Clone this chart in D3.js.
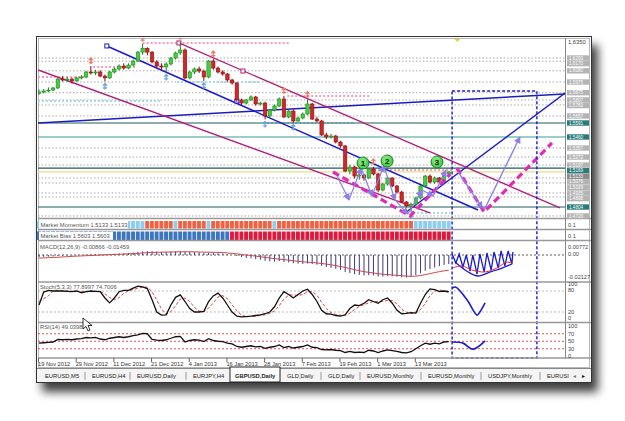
<!DOCTYPE html>
<html><head><meta charset="utf-8">
<script src="https://cdn.jsdelivr.net/npm/d3@7"></script>
<style>body{margin:0;background:#fff}svg{display:block}text{font-family:"Liberation Sans",Arial,sans-serif}</style>
</head><body><svg id="c" width="625" height="421"></svg>
<script>
// ---------- DATA ----------
const open=[1.5870,1.5882,1.5891,1.5900,1.5919,1.6003,1.5994,1.6003,1.5985,1.6013,1.6022,1.6069,1.6060,1.6069,1.6031,1.6013,1.6069,1.6097,1.6125,1.6106,1.6134,1.6172,1.6256,1.6290,1.6255,1.6163,1.6125,1.6116,1.6144,1.6200,1.6247,1.6275,1.6013,1.6069,1.6097,1.6078,1.6022,1.6172,1.6106,1.6069,1.6050,1.5994,1.5966,1.5807,1.5778,1.5807,1.5835,1.5769,1.5778,1.5657,1.5713,1.5750,1.5816,1.5647,1.5703,1.5610,1.5638,1.5675,1.5769,1.5628,1.5610,1.5479,1.5460,1.5469,1.5413,1.5376,1.5141,1.5179,1.5094,1.5104,1.5076,1.5160,1.5113,1.4963,1.5019,1.5076,1.5001,1.4944,1.4851,1.4813,1.4830,1.4888,1.5001,1.5094,1.5038,1.5076,1.5038,1.5113];
const high=[1.5905,1.5910,1.5925,1.5930,1.6012,1.6030,1.6020,1.6015,1.6025,1.6040,1.6080,1.6125,1.6090,1.6085,1.6045,1.6080,1.6110,1.6140,1.6150,1.6150,1.6185,1.6265,1.6335,1.6300,1.6265,1.6180,1.6150,1.6160,1.6210,1.6260,1.6352,1.6290,1.6080,1.6110,1.6120,1.6090,1.6180,1.6190,1.6120,1.6085,1.6060,1.6005,1.5975,1.5820,1.5815,1.5850,1.5845,1.5790,1.5790,1.5725,1.5765,1.5830,1.5845,1.5715,1.5720,1.5650,1.5690,1.5810,1.5780,1.5650,1.5620,1.5500,1.5490,1.5480,1.5425,1.5385,1.5200,1.5190,1.5120,1.5115,1.5170,1.5180,1.5125,1.5030,1.5085,1.5080,1.5010,1.4955,1.4860,1.4845,1.4900,1.5010,1.5105,1.5110,1.5090,1.5085,1.5125,1.5140];
const low=[1.5855,1.5868,1.5880,1.5888,1.5910,1.5980,1.5975,1.5960,1.5978,1.6000,1.6010,1.6045,1.6040,1.6020,1.5980,1.6005,1.6055,1.6085,1.6090,1.6095,1.6120,1.6160,1.6230,1.6225,1.6150,1.6100,1.6090,1.6065,1.6130,1.6185,1.6230,1.6000,1.6000,1.6050,1.6060,1.5985,1.6010,1.6090,1.6055,1.6035,1.5980,1.5950,1.5790,1.5760,1.5765,1.5795,1.5755,1.5755,1.5625,1.5645,1.5700,1.5740,1.5640,1.5635,1.5595,1.5600,1.5625,1.5665,1.5620,1.5600,1.5470,1.5440,1.5445,1.5400,1.5360,1.5130,1.5110,1.5070,1.5060,1.5050,1.5065,1.5100,1.4945,1.4950,1.5005,1.4990,1.4930,1.4840,1.4800,1.4750,1.4815,1.4875,1.4990,1.5025,1.5020,1.5030,1.5030,1.5100];
const close=[1.5882,1.5891,1.5900,1.5919,1.6003,1.5994,1.6003,1.5985,1.6013,1.6022,1.6069,1.6060,1.6069,1.6031,1.6013,1.6069,1.6097,1.6125,1.6106,1.6134,1.6172,1.6256,1.6290,1.6255,1.6163,1.6125,1.6116,1.6144,1.6200,1.6247,1.6275,1.6013,1.6069,1.6097,1.6078,1.6022,1.6172,1.6106,1.6069,1.6050,1.5994,1.5966,1.5807,1.5778,1.5807,1.5835,1.5769,1.5778,1.5657,1.5713,1.5750,1.5816,1.5647,1.5703,1.5610,1.5638,1.5675,1.5769,1.5628,1.5610,1.5479,1.5460,1.5469,1.5413,1.5376,1.5141,1.5179,1.5094,1.5104,1.5076,1.5160,1.5113,1.4963,1.5019,1.5076,1.5001,1.4944,1.4851,1.4813,1.4830,1.4888,1.5001,1.5094,1.5038,1.5076,1.5038,1.5113,1.5132];

const momentum=[1,1,1,1,1,1,1,1,1,1,1,1,1,1,1,1,1,1,1,1,1,1,1,0,0,0,0,0,0,1,0,0,0,0,0,0,1,0,0,0,0,0,0,0,0,0,0,0,0,0,1,0,0,0,0,0,0,0,0,0,0,0,0,0,0,0,0,0,0,0,0,0,0,0,0,0,0,0,0,0,1,1,1,1,1,1,1,1];
const bias=[1,1,1,1,1,1,1,1,1,1,1,1,1,1,1,1,1,1,1,1,1,1,1,1,1,1,1,1,1,1,1,1,1,1,1,1,1,1,1,1,1,0,0,0,0,0,0,0,0,0,0,0,0,0,0,0,0,0,0,0,0,0,0,0,0,0,0,0,0,0,0,0,0,0,0,0,0,0,0,0,0,0,0,0,0,0,0,0];

const macdMain=[-0.0020,-0.0018,-0.0016,-0.0014,-0.0010,-0.0008,-0.0006,-0.0004,-0.0002,0.0000,0.0003,0.0005,0.0007,0.0008,0.0008,0.0010,0.0012,0.0015,0.0017,0.0020,0.0024,0.0030,0.0035,0.0038,0.0036,0.0033,0.0030,0.0030,0.0032,0.0035,0.0038,0.0032,0.0030,0.0028,0.0026,0.0022,0.0024,0.0022,0.0018,0.0014,0.0008,0.0002,-0.0010,-0.0020,-0.0028,-0.0032,-0.0040,-0.0046,-0.0056,-0.0062,-0.0064,-0.0060,-0.0068,-0.0072,-0.0080,-0.0084,-0.0086,-0.0082,-0.0088,-0.0094,-0.0106,-0.0116,-0.0124,-0.0134,-0.0144,-0.0164,-0.0174,-0.0186,-0.0192,-0.0198,-0.0196,-0.0198,-0.0208,-0.0208,-0.0204,-0.0206,-0.0210,-0.0216,-0.0218,-0.0212,-0.0196,-0.0176,-0.0152,-0.0136,-0.0120,-0.0108,-0.0096,-0.0087];
const macdSignal=[-0.0030,-0.0028,-0.0026,-0.0024,-0.0022,-0.0019,-0.0016,-0.0013,-0.0011,-0.0009,-0.0007,-0.0005,-0.0003,-0.0001,0.0001,0.0003,0.0005,0.0007,0.0009,0.0011,0.0013,0.0016,0.0019,0.0022,0.0024,0.0026,0.0027,0.0028,0.0029,0.0030,0.0031,0.0031,0.0031,0.0030,0.0029,0.0028,0.0027,0.0026,0.0025,0.0023,0.0020,0.0016,0.0011,0.0005,0.0000,-0.0005,-0.0011,-0.0017,-0.0023,-0.0029,-0.0035,-0.0040,-0.0045,-0.0050,-0.0056,-0.0061,-0.0066,-0.0069,-0.0073,-0.0077,-0.0082,-0.0088,-0.0095,-0.0103,-0.0111,-0.0121,-0.0131,-0.0142,-0.0152,-0.0161,-0.0168,-0.0174,-0.0181,-0.0186,-0.0190,-0.0193,-0.0197,-0.0200,-0.0204,-0.0206,-0.0204,-0.0199,-0.0190,-0.0180,-0.0170,-0.0161,-0.0153,-0.0146];

const stochK=[40,77,82,80,80,80,79,78,80,75,78,80,79,78,60,46,60,78,82,82,88,94,92,87,55,20,11,12,40,62,69,50,30,20,20,22,50,66,74,60,40,20,8,6,7,8,10,12,15,20,35,60,78,70,60,70,80,85,70,50,25,15,14,10,8,12,30,40,38,45,55,50,45,55,60,45,25,15,16,18,17,45,70,86,84,78,80,77.9];
const stochD=[50,58,66,80,81,80,80,79,79,78,78,78,79,79,72,61,55,61,73,81,84,88,91,91,78,54,29,14,21,38,57,60,50,33,23,21,31,46,63,67,58,40,23,11,7,7,8,10,12,16,23,38,57,68,69,67,70,78,78,68,48,30,18,13,11,10,17,27,36,41,46,50,50,50,53,53,43,28,19,16,17,27,44,67,80,83,80,74.7];
const rsi=[45,46,47,48,55,54,55,54,56,57,60,59,60,56,54,58,60,62,60,62,65,67,71,70,55,53,52,54,58,62,63,48,52,54,53,49,57,52,50,49,45,43,36,34,36,38,35,36,31,34,36,40,33,36,32,34,36,40,34,33,28,27,28,26,25,20,23,20,21,20,26,24,20,24,27,25,23,20,19,22,30,38,45,42,45,43,48,49.04];

const dateBars=[0,8,16,24,32,40,48,56,64,72,80];
const dateText=["19 Nov 2012","29 Nov 2012","11 Dec 2012","21 Dec 2012","4 Jan 2013","16 Jan 2013","28 Jan 2013","7 Feb 2013","19 Feb 2013","1 Mar 2013","13 Mar 2013"];
const tabs=["EURUSD,M5","EURUSD,H4","EURUSD,Daily","EURJPY,H4","GBPUSD,Daily","GLD,Daily","GLD,Daily","EURUSD,Monthly","EURUSD,Monthly","USDJPY,Monthly","EURUSI"];
const activeTab=4;

const grayLevels=[1.6200,1.6170,1.6080,1.5975,1.5875,1.5807,1.5760,1.5657,1.5357,1.5272,1.5197,1.5076,1.5029,1.4935,1.4898,1.4720];
const tealLevels=[1.5591,1.5460,1.5169,1.4804];
const currentPrice=1.5133;
const topPrice=1.6350;

// drawn objects (bar index, price)
const trendBlue=[[-0.2,1.5591],[111.7,1.5863]];
const channelBlue=[[14.4,1.6313],[93.2,1.4776]];
const channelBlueMarks=[[14.4,1.6313],[42,1.5797]];
const upBlue=[[77.7,1.4748],[111.7,1.5872]];
const magentaUpper=[[29.7,1.6341],[110.6,1.4795]];
const magentaMarks=[[29.7,1.6341],[43.3,1.6078]];
const magentaLower=[[-0.2,1.6088],[83,1.4748]];
const pinkLeft=[[62.4,1.5132],[78.8,1.4720],[87.3,1.5113]];
const pinkRight=[[88.7,1.5169],[94.5,1.4757],[108.9,1.5404]];
const purpleZig=[[63.3,1.5094],[65.8,1.4870],[68.4,1.5169],[70.7,1.4907],[73.2,1.5188],[75.6,1.4870],[78.3,1.4738],[81.3,1.4963],[83.7,1.4907],[86.4,1.5151]];
const purpleProj=[[[89.0,1.5132],[94.1,1.4795]],[[94.5,1.4776],[102.1,1.5460]]];
const pinkFractal=[[-0.2,9.8,1.6022],[11.5,20.8,1.6116],[22,53.3,1.6341],[52.7,70.3,1.5844],[70.3,87.9,1.5151]];
const blueFractal=[[-0.2,25.7,1.5797],[29.3,46.9,1.5975],[47.6,66.7,1.5591],[79.4,87.3,1.4748]];
const fractalHighBars=[11,22,30,37,52,57,71];
const fractalLowBars=[14,27,35,48,54,79];
const waves=[{n:"1",bar:68.8,p:1.5216},{n:"2",bar:73.9,p:1.5235},{n:"3",bar:84.5,p:1.5226}];
const projBox={b0:87.7,b1:105.7,top:1.5891};
const macdProj=[[87.7,0.0010],[88.5,-0.0077],[89.2,0.0010],[90.0,-0.0116],[90.7,0.0000],[91.5,-0.0155],[92.1,0.0000],[93.0,-0.0184],[93.6,0.0010],[94.5,-0.0164],[95.1,0.0019],[96.0,-0.0145],[96.6,0.0029],[97.5,-0.0126],[98.1,0.0039],[98.9,-0.0106],[99.6,0.0039],[100.4,-0.0087],[100.6,0.0029]];
const macdProjCurve=[[88.3,-0.0068],[91.1,-0.0164],[93.2,-0.0203],[95.8,-0.0164],[98.3,-0.0126],[100.4,-0.0087]];
const macdProjRed=[[87.7,-0.0126],[89.8,-0.0106],[91.9,-0.0145],[94.7,-0.0164],[97.2,-0.0126],[99.4,-0.0068],[100.6,-0.0087]];
const stochProj=[[87.7,88],[88.5,91],[90.9,54],[93.0,11],[93.6,20],[94.7,46]];
const rsiProj=[[87.7,48],[90.0,45],[92.1,29],[94.7,51]];

// ---------- LAYOUT ----------
const svg=d3.select('#c');
const L=38,R=565;
const x=d3.scaleLinear().domain([0,87]).range([39,448.8]);
const y=d3.scaleLinear().domain([1.4804,1.6350]).range([207,42]);
const ym=d3.scaleLinear().domain([-0.02127,0.00772]).range([277,247]);
const ys=d3.scaleLinear().domain([0,100]).range([319,284]);
const yr=d3.scaleLinear().domain([0,100]).range([360,322.5]);
const N=close.length, idx=d3.range(N);
const tabStart=[45,92,137,193,235,287,328,367,428,488,547];

const defs=svg.append('defs');
const f=defs.append('filter').attr('id','sh').attr('x','-10%').attr('y','-10%').attr('width','125%').attr('height','130%');
f.append('feDropShadow').attr('dx',6).attr('dy',9).attr('stdDeviation',5).attr('flood-color','#000').attr('flood-opacity',0.75);
function clip(id,x0,y0,w,h){defs.append('clipPath').attr('id',id).append('rect').attr('x',x0).attr('y',y0).attr('width',w).attr('height',h);}
clip('cm',L,38,R-L,180);clip('cmacd',L,242,R-L,40);clip('cst',L,283,R-L,39);clip('crsi',L,323,R-L,35);
const mk=defs.append('marker').attr('id','pa').attr('viewBox','0 0 8 8').attr('refX',7).attr('refY',4).attr('markerWidth',7).attr('markerHeight',7).attr('markerUnits','userSpaceOnUse').attr('orient','auto');
mk.append('path').attr('d','M0,0 L8,4 L0,8 z').attr('fill','#8c7fe6');

svg.append('rect').attr('width',625).attr('height',421).attr('fill','#fff');
svg.append('rect').attr('x',36).attr('y',36).attr('width',556).attr('height',347).attr('fill','#fff').attr('filter','url(#sh)');
svg.append('rect').attr('x',36.5).attr('y',36.5).attr('width',555).attr('height',346).attr('fill','#fff').attr('stroke','#333');
svg.append('rect').attr('x',38.5).attr('y',38.5).attr('width',551).attr('height',329).attr('fill','none').attr('stroke','#b8b8b8');

const line=(sx,sy)=>d3.line().x(d=>sx(d[0])).y(d=>sy(d[1]));
const lp=line(x,y);

// ---------- MAIN ----------
const gm=svg.append('g').attr('clip-path','url(#cm)');
gm.selectAll('.gl').data(grayLevels).join('line').attr('x1',L).attr('x2',R).attr('y1',d=>y(d)).attr('y2',d=>y(d)).attr('stroke','#a9a9a9').attr('stroke-dasharray','1.5,2');
gm.selectAll('.pf').data(pinkFractal).join('line').attr('x1',d=>x(d[0])).attr('x2',d=>x(d[1])).attr('y1',d=>y(d[2])).attr('y2',d=>y(d[2])).attr('stroke','#f4a0b4').attr('stroke-width',2).attr('stroke-dasharray','2,2');
gm.selectAll('.bf').data(blueFractal).join('line').attr('x1',d=>x(d[0])).attr('x2',d=>x(d[1])).attr('y1',d=>y(d[2])).attr('y2',d=>y(d[2])).attr('stroke','#a8d8ec').attr('stroke-width',2).attr('stroke-dasharray','2,2');
gm.selectAll('.tl').data(tealLevels).join('line').attr('x1',L).attr('x2',R).attr('y1',d=>y(d)).attr('y2',d=>y(d)).attr('stroke',(d,i)=>i==1?'#3a9c9c':'#1e5e5e').attr('stroke-width',1.2);
gm.append('line').attr('x1',L).attr('x2',R).attr('y1',y(currentPrice)).attr('y2',y(currentPrice)).attr('stroke','#e6df86').attr('stroke-width',1.2);

gm.append('path').attr('d',lp(trendBlue)).attr('stroke','#1c1cb8').attr('stroke-width',1.5).attr('fill','none');
gm.append('path').attr('d',lp(channelBlue)).attr('stroke','#1c1cc8').attr('stroke-width',1.5).attr('fill','none');
gm.append('path').attr('d',lp(upBlue)).attr('stroke','#1c1cc8').attr('stroke-width',1.5).attr('fill','none');
gm.append('path').attr('d',lp(magentaUpper)).attr('stroke','#b0207a').attr('stroke-width',1.3).attr('fill','none');
gm.append('path').attr('d',lp(magentaLower)).attr('stroke','#b0207a').attr('stroke-width',1.3).attr('fill','none');
gm.selectAll('.cbm').data(channelBlueMarks).join('rect').attr('x',d=>x(d[0])-2).attr('y',d=>y(d[1])-2).attr('width',4).attr('height',4).attr('fill','#fff').attr('stroke','#1c1cc8');
gm.selectAll('.mgm').data(magentaMarks).join('rect').attr('x',d=>x(d[0])-2).attr('y',d=>y(d[1])-2).attr('width',4).attr('height',4).attr('fill','#fff').attr('stroke','#b0207a');

const bull=i=>close[i]>=open[i];
gm.selectAll('.wk').data(idx).join('line').attr('x1',i=>x(i)).attr('x2',i=>x(i)).attr('y1',i=>y(high[i])).attr('y2',i=>y(low[i])).attr('stroke',i=>bull(i)?'#2a7a2a':'#7a1010').attr('stroke-width',1);
gm.selectAll('.bd').data(idx).join('rect').attr('x',i=>x(i)-1.7).attr('width',3.4).attr('y',i=>y(Math.max(open[i],close[i]))).attr('height',i=>Math.max(1,Math.abs(y(open[i])-y(close[i])))).attr('fill',i=>bull(i)?'#3fcf3f':'#d02828').attr('stroke',i=>bull(i)?'#238a23':'#8a1414').attr('stroke-width',0.6);

const arrowD='M0,0 L0,-6 M-2,-3.8 L0,-6 L2,-3.8 M-2,-1.5 L2,-1.5';
gm.selectAll('.fh').data(fractalHighBars).join('path').attr('d',arrowD).attr('transform',i=>`translate(${x(i)},${y(high[i])-2})`).attr('stroke','#f07860').attr('stroke-width',1.3).attr('fill','none');
gm.selectAll('.fl').data(fractalLowBars).join('path').attr('d',arrowD).attr('transform',i=>`translate(${x(i)},${y(low[i])+8})`).attr('stroke','#6aa6e0').attr('stroke-width',1.3).attr('fill','none');

gm.append('path').attr('d',lp(pinkLeft)).attr('stroke','#e02ab8').attr('stroke-width',3.2).attr('stroke-dasharray','7,4').attr('fill','none');
gm.append('path').attr('d',lp(pinkRight)).attr('stroke','#e02ab8').attr('stroke-width',3.2).attr('stroke-dasharray','7,4').attr('fill','none');
const zsegs=d3.pairs(purpleZig);
gm.selectAll('.pz').data(zsegs).join('path').attr('d',d=>lp(d)).attr('stroke','#8c7fe6').attr('stroke-width',1.2).attr('fill','none').attr('marker-end','url(#pa)');
gm.selectAll('.pp').data(purpleProj).join('path').attr('d',d=>lp(d)).attr('stroke','#8c7fe6').attr('stroke-width',1.4).attr('fill','none').attr('marker-end','url(#pa)');

const wg=gm.selectAll('.wv').data(waves).join('g').attr('transform',d=>`translate(${x(d.bar)},${y(d.p)})`);
wg.append('circle').attr('r',6).attr('fill','#4fd24f').attr('stroke','#1f7a1f').attr('stroke-width',1);
wg.append('circle').attr('r',4).attr('cx',-1).attr('cy',-1.5).attr('fill','#8cf08c').attr('opacity',0.6);
wg.append('text').text(d=>d.n).attr('text-anchor','middle').attr('y',3).attr('font-size',8).attr('font-weight','bold').attr('fill','#111');

gm.append('path').attr('d','M-3,0 L3,0 L0,3 Z').attr('transform',`translate(${x(88.8)},${y(1.6380)})`).attr('fill','#e8c820');

// ---------- MOMENTUM / BIAS ----------
svg.append('g').selectAll('rect').data(idx).join('rect').attr('x',i=>x(i)-2.1).attr('width',3.9).attr('y',221).attr('height',7.5).attr('fill',i=>momentum[i]?'#8ccdf0':'#f2603e');
svg.append('g').selectAll('rect').data(idx).join('rect').attr('x',i=>x(i)-2.1).attr('width',3.9).attr('y',231.5).attr('height',8.5).attr('fill',i=>bias[i]?'#3c76be':'#e0183c');
function lbl(t,x0,y0,w){svg.append('rect').attr('x',x0).attr('y',y0-6).attr('width',w).attr('height',8).attr('fill','#fff');
 svg.append('text').text(t).attr('x',x0+1.5).attr('y',y0).attr('font-size',5.8).attr('fill','#555');}
lbl('Market Momentum 1.5133 1.5133',39,227,89);
lbl('Market Bias 1.5603 1.5603',39,238,74);

// ---------- MACD ----------
const gmc=svg.append('g').attr('clip-path','url(#cmacd)');
gmc.append('line').attr('x1',L).attr('x2',R).attr('y1',ym(0)).attr('y2',ym(0)).attr('stroke','#333').attr('stroke-dasharray','2,2').attr('stroke-width',0.8);
gmc.selectAll('.h').data(idx).join('line').attr('x1',i=>x(i)).attr('x2',i=>x(i)).attr('y1',ym(0)).attr('y2',i=>ym(macdMain[i])).attr('stroke','#3a3a80').attr('stroke-width',1);
gmc.append('path').attr('d',d3.line().x((d,i)=>x(i)).y(d=>ym(d))(macdSignal)).attr('stroke','#d04848').attr('stroke-width',1).attr('fill','none');
gmc.append('path').attr('d',line(x,ym)(macdProj)).attr('stroke','#1a1ad0').attr('stroke-width',1.3).attr('fill','none');
gmc.append('path').attr('d',line(x,ym).curve(d3.curveCatmullRom)(macdProjCurve)).attr('stroke','#1a1ad0').attr('stroke-width',1.3).attr('fill','none');
gmc.append('path').attr('d',line(x,ym).curve(d3.curveCatmullRom)(macdProjRed)).attr('stroke','#e03030').attr('stroke-width',1).attr('fill','none');
svg.append('text').text('MACD(12,26,9) -0.00866 -0.01459').attr('x',40).attr('y',249).attr('font-size',5.8).attr('fill','#555');

// ---------- STOCH ----------
const gst=svg.append('g').attr('clip-path','url(#cst)');
[80,20].forEach(v=>gst.append('line').attr('x1',L).attr('x2',R).attr('y1',ys(v)).attr('y2',ys(v)).attr('stroke','#aaa').attr('stroke-dasharray','2,2').attr('stroke-width',0.8));
gst.append('path').attr('d',d3.line().x((d,i)=>x(i)).y(d=>ys(d))(stochD)).attr('stroke','#e04040').attr('stroke-dasharray','3,2').attr('stroke-width',1).attr('fill','none');
gst.append('path').attr('d',d3.line().x((d,i)=>x(i)).y(d=>ys(d))(stochK)).attr('stroke','#111').attr('stroke-width',1.3).attr('fill','none');
gst.append('path').attr('d',line(x,ys).curve(d3.curveCatmullRom)(stochProj)).attr('stroke','#1a1ad0').attr('stroke-width',1.6).attr('fill','none');
svg.append('text').text('Stoch(5,3,3) 77.8997 74.7006').attr('x',40).attr('y',289).attr('font-size',5.8).attr('fill','#555');

// ---------- RSI ----------
const grs=svg.append('g').attr('clip-path','url(#crsi)');
[70,50,30].forEach(v=>grs.append('line').attr('x1',L).attr('x2',R).attr('y1',yr(v)).attr('y2',yr(v)).attr('stroke','#d84040').attr('stroke-dasharray','2,2').attr('stroke-width',0.9));
grs.append('path').attr('d',d3.line().x((d,i)=>x(i)).y(d=>yr(d))(rsi)).attr('stroke','#111').attr('stroke-width',1.3).attr('fill','none');
grs.append('path').attr('d',line(x,yr).curve(d3.curveCatmullRom)(rsiProj)).attr('stroke','#1a1ad0').attr('stroke-width',1.6).attr('fill','none');
svg.append('text').text('RSI(14) 49.0398').attr('x',40).attr('y',329).attr('font-size',5.8).attr('fill','#555');

svg.append('rect').attr('x',x(projBox.b0)).attr('y',y(projBox.top)).attr('width',x(projBox.b1)-x(projBox.b0)).attr('height',358-y(projBox.top)).attr('fill','none').attr('stroke','#1a1ad0').attr('stroke-width',1.4).attr('stroke-dasharray','3,2');

[218.5,229.5,240.5,282,322.5,358].forEach(v=>svg.append('line').attr('x1',L).attr('x2',591).attr('y1',v).attr('y2',v).attr('stroke','#999').attr('stroke-width',1.5));
svg.append('line').attr('x1',R+0.5).attr('x2',R+0.5).attr('y1',38).attr('y2',358).attr('stroke','#888');

// ---------- RIGHT AXIS (price boxes, spread to avoid overlap) ----------
const ax=svg.append('g');
ax.append('text').text(topPrice.toFixed(4)).attr('x',568).attr('y',y(topPrice)+2).attr('font-size',5.8).attr('fill','#444');
const boxes=[...grayLevels.map(p=>({p,fill:'#b4b4b4'})),...tealLevels.map(p=>({p,fill:'#2a7c7c'})),{p:currentPrice,fill:'#8a8a8a'}]
  .sort((a,b)=>y(a.p)-y(b.p));
let lastY=-1e9;
boxes.forEach(b=>{b.ly=Math.max(y(b.p),lastY+5.6);lastY=b.ly;});
boxes.forEach(b=>{
  ax.append('rect').attr('x',567).attr('y',b.ly-2.7).attr('width',22).attr('height',5.4).attr('fill',b.fill);
  ax.append('text').text(b.p.toFixed(4)).attr('x',569).attr('y',b.ly+1.6).attr('font-size',4.6).attr('fill','#fff');
});
const axT=(t,yy)=>ax.append('text').text(t).attr('x',568).attr('y',yy).attr('font-size',5.6).attr('fill','#444');
axT('0.1',227);axT('0.1',238);
axT('0.00772',ym(0.00772)+2);axT('0.00',ym(0)+1);axT('-0.02127',ym(-0.02127)+2);
axT('100',ys(100)+2);axT('80',ys(80)+1);axT('20',ys(20)+2);axT('0',ys(0)+1);
axT('100',yr(100)+5);axT('70',yr(70)+2);axT('50',yr(50)+2);axT('30',yr(30)+2);axT('0',yr(0)-2);

// ---------- DATE AXIS ----------
const gd=svg.append('g');
gd.selectAll('line').data(dateBars).join('line').attr('x1',d=>x(d)-0.5).attr('x2',d=>x(d)-0.5).attr('y1',358).attr('y2',362).attr('stroke','#666');
gd.selectAll('text').data(dateBars).join('text').text((d,i)=>dateText[i]).attr('x',d=>x(d)-1).attr('y',366).attr('font-size',5.7).attr('fill','#333');

// ---------- TABS ----------
svg.append('rect').attr('x',37).attr('y',368).attr('width',554).attr('height',14).attr('fill','#f4f4f4');
svg.append('line').attr('x1',37).attr('x2',591).attr('y1',368.5).attr('y2',368.5).attr('stroke','#888');
const tg=svg.append('g');
tabs.forEach((t,i)=>{
  const tx=tabStart[i];
  if(i===activeTab){tg.append('rect').attr('x',tx-5).attr('y',367).attr('width',50).attr('height',15).attr('fill','#fff').attr('stroke','#222');}
  tg.append('text').text(t).attr('x',tx).attr('y',377.5).attr('font-size',5.8).attr('fill','#222').attr('font-weight',i===activeTab?'bold':'normal');
  if(i>0 && i!==activeTab && i!==activeTab+1){tg.append('line').attr('x1',tx-7).attr('x2',tx-7).attr('y1',372).attr('y2',380).attr('stroke','#999');}
});
svg.append('rect').attr('x',569).attr('y',369).attr('width',21).attr('height',12).attr('fill','#f4f4f4');
svg.append('text').text('◂').attr('x',573).attr('y',378).attr('font-size',6).attr('fill','#777');
svg.append('text').text('▸').attr('x',582).attr('y',378).attr('font-size',6).attr('fill','#111');

svg.append('path').attr('d','M0,0 L0,11 L3,8.5 L5,13 L7,12 L5,7.5 L9,7.5 Z').attr('transform','translate(83,318)').attr('fill','#fff').attr('stroke','#000').attr('stroke-width',0.8);
</script></body></html>
